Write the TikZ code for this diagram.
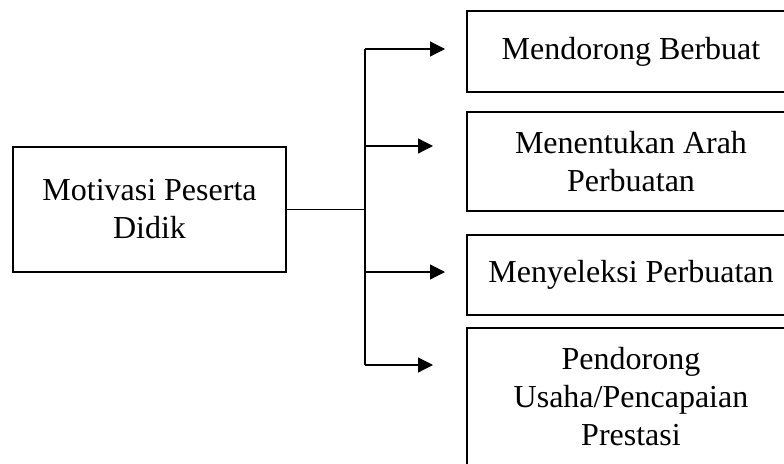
\documentclass[tikz,border=0pt]{standalone}
\usepackage{fontspec}
\setmainfont{Liberation Serif}
\usetikzlibrary{arrows.meta}
\usetikzlibrary{positioning}

\begin{document}
\begin{tikzpicture}[x=1pt,y=1pt,
    box/.style={draw,line width=2pt,rectangle,inner sep=0pt,align=center,
      font=\fontsize{32}{38}\selectfont},
    link/.style={draw,line width=1.2pt}]

  \useasboundingbox (0,0) rectangle (784,-463);
  \clip (0,0) rectangle (784,-463);

  \node [box,minimum width=273pt,minimum height=125pt] (Motivasi) at (149.5,-209.5) {Motivasi Peserta\\Didik};

  \node [box,minimum width=328pt,minimum height=81pt]  (Dorong)  at (631,-51.5)  {Mendorong Berbuat};
  \node [box,minimum width=328pt,minimum height=99pt]  (Arah)    at (631,-161.5) {Menentukan Arah\\Perbuatan};
  \node [box,minimum width=328pt,minimum height=80pt]  (Seleksi) at (631,-275)   {Menyeleksi Perbuatan};
  \node [box,minimum width=328pt,minimum height=138pt] (Prestasi) at (631,-397)  {Pendorong\\Usaha/Pencapaian\\Prestasi};

  \coordinate (T_1) at (365,-49);
  \coordinate (T_2) at (365,-146);
  \coordinate (T_3) at (365,-272);
  \coordinate (T_4) at (365,-365);
  \coordinate (T_mid) at (Motivasi.east -| T_1);

  \coordinate (to_Dorong)   at (445,-49);
  \coordinate (to_Arah)     at (433,-146);
  \coordinate (to_Seleksi)  at (445,-272);
  \coordinate (to_Prestasi) at (433,-365);

  \path [link]
    (Motivasi.east) -- (T_mid)
    (T_1) -- (T_4);

  \path [link,>={Triangle[length=15pt,width=15pt]}]
    (T_1) edge [->] (to_Dorong)
    (T_2) edge [->] (to_Arah)
    (T_3) edge [->] (to_Seleksi)
    (T_4) edge [->] (to_Prestasi);

\end{tikzpicture}
\end{document}
